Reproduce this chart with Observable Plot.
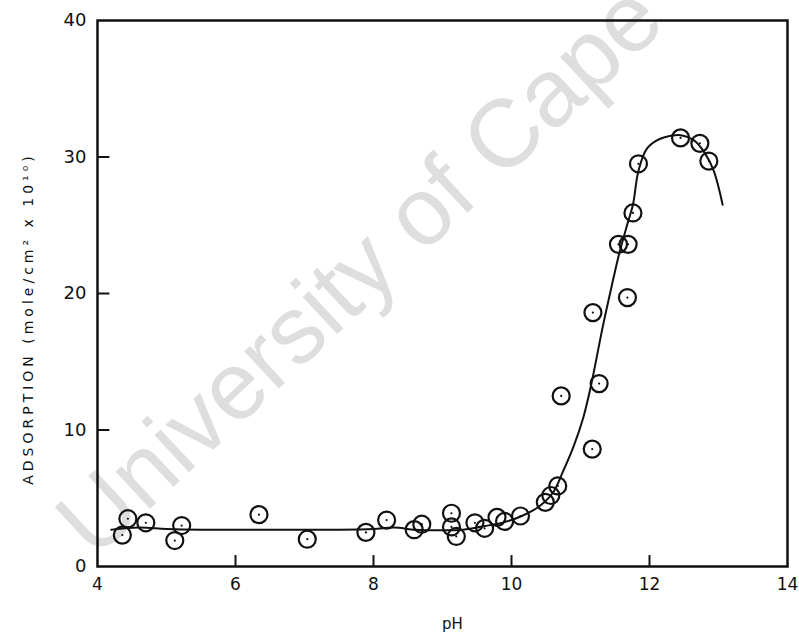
<!DOCTYPE html>
<html>
<head>
<meta charset="utf-8">
<script src="https://cdn.jsdelivr.net/npm/d3@7"></script>
<script src="https://cdn.jsdelivr.net/npm/@observablehq/plot@0.6"></script>
<style>
  body { margin: 0; background: #fff; }
  #chart svg { display: block; }
</style>
</head>
<body>
<div id="chart"></div>
<script>
// Measured adsorption vs pH (open circles)
const phPoints = [4.36, 4.44, 4.70, 5.12, 5.22, 6.34, 7.04, 7.89, 8.19, 8.59, 8.70,
  9.13, 9.13, 9.20, 9.47, 9.61, 9.79, 9.90, 10.13, 10.49, 10.57, 10.67, 10.72,
  11.17, 11.18, 11.27, 11.55, 11.69, 11.68, 11.76, 11.84, 12.45, 12.73, 12.86];
const adsorption = [2.3, 3.5, 3.2, 1.9, 3.0, 3.8, 2.0, 2.5, 3.4, 2.7, 3.1,
  3.9, 2.9, 2.2, 3.2, 2.8, 3.6, 3.3, 3.7, 4.7, 5.2, 5.9, 12.5,
  8.6, 18.6, 13.4, 23.6, 23.6, 19.7, 25.9, 29.5, 31.4, 31.0, 29.7];

// Hand-fitted trend curve
const curvePh = [4.2, 4.6, 5.0, 5.5, 6.5, 7.5, 8.0, 8.3, 8.6, 9.0, 9.3, 9.6, 9.9,
  10.15, 10.4, 10.6, 10.75, 10.9, 11.04, 11.15, 11.32, 11.45, 11.56, 11.68, 11.76,
  11.84, 11.96, 12.1, 12.22, 12.45, 12.65, 12.8, 12.93, 13.06];
const curveAds = [2.7, 2.85, 2.75, 2.7, 2.7, 2.7, 2.75, 2.85, 2.7, 2.65, 2.7, 2.95, 3.25,
  3.7, 4.4, 5.4, 7.0, 8.8, 10.9, 13.2, 17.5, 20.5, 22.9, 25.1, 26.5,
  29.0, 30.6, 31.2, 31.45, 31.6, 31.2, 30.3, 29.0, 26.5];

// Axis ticks
const xTicks = [4, 6, 8, 10, 12, 14];
const xInnerTicks = [6, 8, 10, 12];
const yTicks = [0, 10, 20, 30, 40];
const yInnerTicks = [10, 20, 30];

const xLabel = "pH";
const yLabel = "ADSORPTION (mole/cm\u00B2 x 10\u00B9\u2070)";
const watermark = "University of Cape Town";

const points = phPoints.map((ph, i) => ({ph, ads: adsorption[i]}));
const curve = curvePh.map((ph, i) => ({ph, ads: curveAds[i]}));

const ink = "#111";
const xDomain = [4, 14];
const yDomain = [0, 40];

const chart = Plot.plot({
  width: 799,
  height: 635,
  marginLeft: 97,
  marginRight: 12,
  marginTop: 20,
  marginBottom: 69,
  style: {fontFamily: "DejaVu Sans, sans-serif", color: ink, background: "#fff"},
  x: {domain: xDomain},
  y: {domain: yDomain},
  marks: [
    Plot.text([watermark], {
      frameAnchor: "bottom-left", dx: -3, dy: -6, rotate: -43,
      textAnchor: "start", lineAnchor: "bottom",
      fontSize: 96, fontFamily: "Liberation Sans, Arial, sans-serif",
      fill: "#dedede"
    }),
    Plot.axisX({ticks: xTicks, tickSize: 0, tickPadding: 11, fontSize: 17, label: null}),
    Plot.axisY({ticks: yTicks, tickSize: 0, tickPadding: 11, fontSize: 18, label: null}),
    // short inward ticks standing on the bottom and left edges of the frame
    Plot.ruleX(xInnerTicks, {x: (d) => d, y1: yDomain[0], y2: yDomain[0] + 0.8, stroke: ink, strokeWidth: 2}),
    Plot.ruleY(yInnerTicks, {y: (d) => d, x1: xDomain[0], x2: xDomain[0] + 0.18, stroke: ink, strokeWidth: 2}),
    Plot.frame({stroke: ink, strokeWidth: 2.5}),
    Plot.line(curve, {x: "ph", y: "ads", curve: "catmull-rom", stroke: ink, strokeWidth: 2}),
    Plot.dot(points, {x: "ph", y: "ads", r: 8.5, stroke: ink, strokeWidth: 2.2, fill: "none"}),
    Plot.dot(points, {x: "ph", y: "ads", r: 1.1, fill: ink}),
    Plot.text([xLabel], {frameAnchor: "bottom", dx: 10, dy: 62, fontSize: 15, lineAnchor: "bottom"}),
    Plot.text([yLabel], {frameAnchor: "left", rotate: -90, dx: -69, dy: 25, fontSize: 14,
      textAnchor: "middle"})
  ]
});

d3.select(chart).selectAll("text")
  .filter(function () { return this.textContent === yLabel; })
  .style("letter-spacing", "4px");
document.getElementById("chart").appendChild(chart);
</script>
</body>
</html>
